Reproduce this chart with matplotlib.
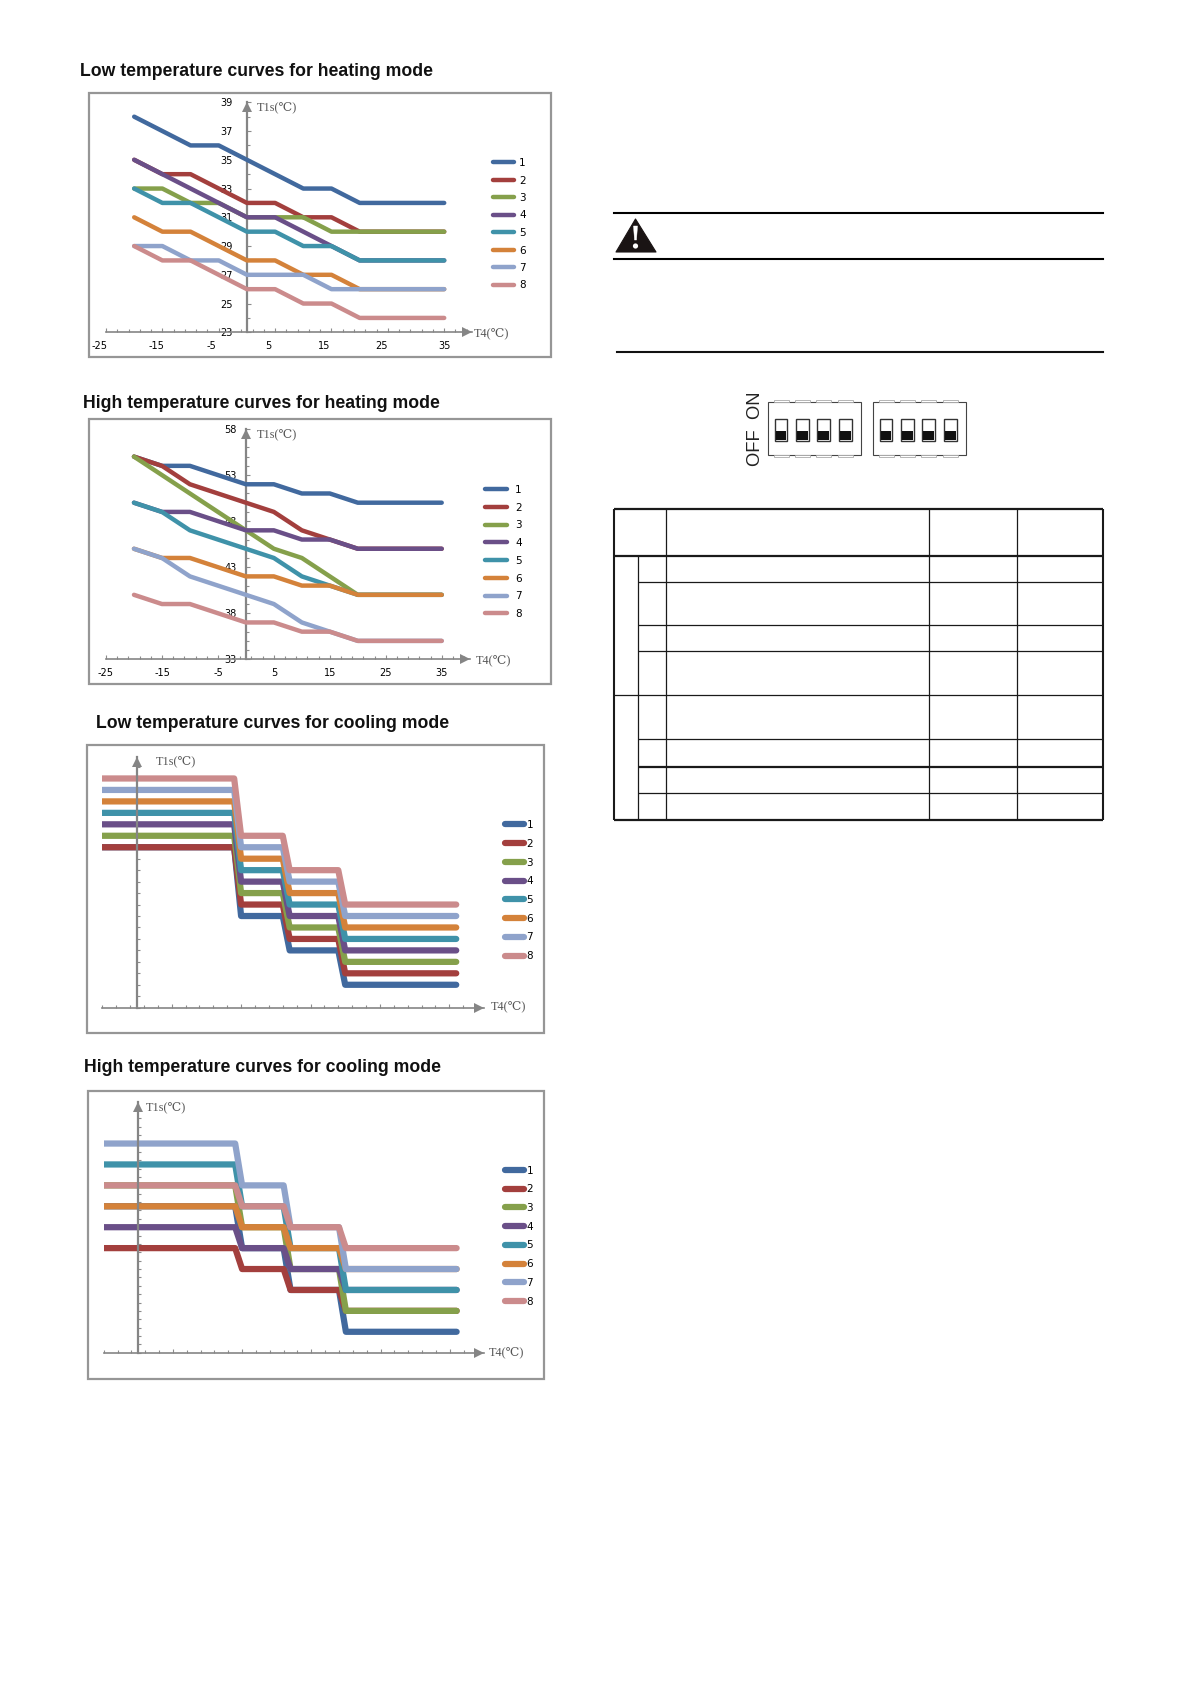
import matplotlib
matplotlib.use("Agg")
import matplotlib.pyplot as plt
from matplotlib.patches import Polygon, Rectangle, Circle
from matplotlib.transforms import ScaledTranslation

W, H = 1191, 1684
DPI = 100

colors = ["#41699E", "#A33F3D", "#85A04B", "#6A4F88", "#3F92A9", "#D4823A", "#8FA3CB", "#CB8B8C"]
names = ["1", "2", "3", "4", "5", "6", "7", "8"]

# heating curves, T4 every 5 degrees
heat_t4 = [-20, -15, -10, -5, 0, 5, 10, 15, 20, 25, 30, 35]

low_heat = [
    [38, 37, 36, 36, 35, 34, 33, 33, 32, 32, 32, 32],
    [35, 34, 34, 33, 32, 32, 31, 31, 30, 30, 30, 30],
    [33, 33, 32, 32, 31, 31, 31, 30, 30, 30, 30, 30],
    [35, 34, 33, 32, 31, 31, 30, 29, 28, 28, 28, 28],
    [33, 32, 32, 31, 30, 30, 29, 29, 28, 28, 28, 28],
    [31, 30, 30, 29, 28, 28, 27, 27, 26, 26, 26, 26],
    [29, 29, 28, 28, 27, 27, 27, 26, 26, 26, 26, 26],
    [29, 28, 28, 27, 26, 26, 25, 25, 24, 24, 24, 24],
]
high_heat = [
    [55, 54, 54, 53, 52, 52, 51, 51, 50, 50, 50, 50],
    [55, 54, 52, 51, 50, 49, 47, 46, 45, 45, 45, 45],
    [55, 53, 51, 49, 47, 45, 44, 42, 40, 40, 40, 40],
    [50, 49, 49, 48, 47, 47, 46, 46, 45, 45, 45, 45],
    [50, 49, 47, 46, 45, 44, 42, 41, 40, 40, 40, 40],
    [45, 44, 44, 43, 42, 42, 41, 41, 40, 40, 40, 40],
    [45, 44, 42, 41, 40, 39, 37, 36, 35, 35, 35, 35],
    [40, 39, 39, 38, 37, 37, 36, 36, 35, 35, 35, 35],
]

# cooling curves, no scale printed in the source so y is in tick counts
cool_t4 = [-5, 14, 15, 21, 22, 29, 30, 46]

low_cool = [
    [14, 14, 8, 8, 5, 5, 2, 2],
    [14, 14, 9, 9, 6, 6, 3, 3],
    [15, 15, 10, 10, 7, 7, 4, 4],
    [16, 16, 11, 11, 8, 8, 5, 5],
    [17, 17, 12, 12, 9, 9, 6, 6],
    [18, 18, 13, 13, 10, 10, 7, 7],
    [19, 19, 14, 14, 11, 11, 8, 8],
    [20, 20, 15, 15, 12, 12, 9, 9],
]
high_cool = [
    [7, 7, 5, 5, 3, 3, 1, 1],
    [5, 5, 4, 4, 3, 3, 2, 2],
    [8, 8, 6, 6, 4, 4, 2, 2],
    [6, 6, 5, 5, 4, 4, 3, 3],
    [9, 9, 7, 7, 5, 5, 3, 3],
    [7, 7, 6, 6, 5, 5, 4, 4],
    [10, 10, 8, 8, 6, 6, 4, 4],
    [8, 8, 7, 7, 6, 6, 5, 5],
]

heat_xticks = [-25, -15, -5, 5, 15, 25, 35]
low_yticks = [39, 37, 35, 33, 31, 29, 27, 25, 23]
high_yticks = [58, 53, 48, 43, 38, 33]

# right hand column
table_h = [(614, 1103, 509), (614, 1103, 556), (638, 1103, 582), (638, 1103, 625), (638, 1103, 651),
           (614, 1103, 695), (638, 1103, 739), (638, 1103, 767), (638, 1103, 793), (614, 1103, 820)]
table_v = [(614, 509, 820), (638, 556, 820), (666, 509, 820), (929, 509, 820), (1017, 509, 820), (1103, 509, 820)]
thick_rows = [556, 767, 820, 509]
dip_boxes = [768, 873]
dip_offsets = [6.5, 28, 49, 71]

fig = plt.figure(figsize=(W / DPI, H / DPI), dpi=DPI, facecolor="white")
page = fig.add_axes([0, 0, 1, 1])
page.set_xlim(0, W)
page.set_ylim(H, 0)
page.axis("off")

GRAY = "#858585"
TICK = "#8c8c8c"
SERIF = ["Liberation Serif", "DejaVu Serif"]


def make_panel(box, px, xlim, ylim, xminor, yminor, xmajor=None):
    # px = left, right, top, bottom of the axes in pixels
    left, right, top, bottom = px
    page.add_patch(Rectangle((box[0], box[1]), box[2] - box[0], box[3] - box[1], fc="white", ec="#969696", lw=1.6))
    ax = fig.add_axes([left / W, 1 - bottom / H, (right - left) / W, (bottom - top) / H])
    ax.patch.set_alpha(0)
    ax.set_xlim(*xlim)
    ax.set_ylim(*ylim)
    for s in ["top", "right"]:
        ax.spines[s].set_visible(False)
    ax.spines["left"].set_position(("data", 0))
    ax.spines["left"].set_color(GRAY)
    ax.spines["left"].set_linewidth(1.6)
    ax.spines["bottom"].set_color(GRAY)
    ax.spines["bottom"].set_linewidth(1.2)
    ax.set_xticks(xminor, minor=True)
    ax.set_yticks(yminor, minor=True)
    ax.tick_params(which="minor", direction="in", length=2.0, width=0.8, color=TICK)
    ax.tick_params(which="major", direction="in", length=3.0, width=0.8, color=TICK)
    ax.set_xticks(xmajor if xmajor else [])
    ax.set_xticklabels([""] * len(xmajor) if xmajor else [])
    ax.set_yticks([])
    # arrow tips end where the axis ends
    right_tr = ax.get_yaxis_transform() + ScaledTranslation(-5 / DPI, 0, fig.dpi_scale_trans)
    up_tr = ax.get_xaxis_transform() + ScaledTranslation(0, -5 / DPI, fig.dpi_scale_trans)
    ax.plot(1, ylim[0], ">", transform=right_tr, clip_on=False, color=GRAY, ms=7.5, mew=0)
    ax.plot(0, 1, "^", transform=up_tr, clip_on=False, color=GRAY, ms=7.5, mew=0)
    return ax


def draw_curves(ax, x, curves, lw, zorder, legend_at, row_gap, text_gap, handle_len):
    handles = []
    for i, y in enumerate(curves):
        ln, = ax.plot(x, y, color=colors[i], lw=lw, zorder=zorder, solid_capstyle="round",
                      solid_joinstyle="round", label=names[i])
        handles.append(ln)
    ax.legend(handles=handles, loc="upper left", bbox_to_anchor=legend_at, bbox_transform=page.transData,
              frameon=False, fontsize=7.5, handlelength=handle_len, handletextpad=text_gap, labelspacing=row_gap,
              borderpad=0, borderaxespad=0)


def heat_labels(ax, xlab, ylab, offsets, ypad):
    ax.set_xticks(xlab)
    ax.set_xticklabels([str(v) for v in xlab], fontsize=7)
    ax.set_yticks(ylab)
    ax.set_yticklabels([str(v) for v in ylab], fontsize=7)
    ax.tick_params(axis="y", which="major", pad=ypad)
    ax.tick_params(axis="x", which="major", pad=6.5)
    for lbl, dx in zip(ax.get_xticklabels(), offsets):
        lbl.set_transform(lbl.get_transform() + ScaledTranslation(dx / DPI, 0, fig.dpi_scale_trans))


def title(x, y, s):
    page.text(x, y, s, family="Liberation Sans", weight="bold", fontsize=12.73, ha="left", va="center", color="#111111")


def axis_name(x, y, s):
    page.text(x, y, s, family=SERIF, fontsize=8.8, ha="left", va="center", color="#555555")


# low temperature heating
title(80, 71.5, "Low temperature curves for heating mode")
ax1 = make_panel((88.5, 92.5, 550.5, 357), (106, 472.4, 102.3, 332.3), (-25, 40), (23, 39),
                 list(range(-25, 40, 2)), list(range(23, 39)))
draw_curves(ax1, heat_t4, low_heat, 3.2, 3, (492.5, 158), 0.72, 0.45, 2.1)
heat_labels(ax1, heat_xticks, low_yticks, [-6, -6, -7, -7, -7, -6, 0], 10.5)
axis_name(257, 108, "T1s(℃)")
axis_name(474, 334, "T4(℃)")

# high temperature heating
title(83, 403.5, "High temperature curves for heating mode")
ax2 = make_panel((88.5, 419, 550.5, 684), (106, 469.7, 429, 659.3), (-25, 40), (33, 58),
                 list(range(-25, 40, 2)), list(range(33, 58)))
draw_curves(ax2, heat_t4, high_heat, 3.2, 3, (485, 485), 0.74, 0.8, 2.1)
heat_labels(ax2, heat_xticks, high_yticks, [0, 0, 0, 0, 0, 0, 0], 6.5)
axis_name(257, 435, "T1s(℃)")
axis_name(476, 661, "T4(℃)")

# low temperature cooling
title(96, 724, "Low temperature curves for cooling mode")
ax3 = make_panel((87, 745, 544, 1033), (102.3, 484, 756.7, 1007.7), (-5, 50), (0, 21.9),
                 list(range(-5, 50, 2)), list(range(0, 22)), xmajor=list(range(5, 50, 10)))
draw_curves(ax3, cool_t4, low_cool, 4.5, 2, (505, 820), 0.84, 0.25, 1.8)
axis_name(156, 762, "T1s(℃)")
axis_name(491, 1007, "T4(℃)")

# high temperature cooling
title(84, 1068, "High temperature curves for cooling mode")
ax4 = make_panel((87.5, 1091, 544, 1379), (103.7, 484.3, 1101.7, 1352.7), (-5, 50), (0, 12),
                 list(range(-5, 50, 2)), [0.4 * i for i in range(30)], xmajor=list(range(5, 50, 10)))
draw_curves(ax4, cool_t4, high_cool, 4.5, 2, (505, 1165.5), 0.84, 0.25, 1.8)
axis_name(146, 1108.5, "T1s(℃)")
axis_name(489, 1353, "T4(℃)")

# warning block
page.plot([614, 1103], [213, 213], color="black", lw=1.5)
page.plot([614, 1103], [259, 259], color="black", lw=1.5)
page.plot([617, 1103], [352, 352], color="#111111", lw=1.5)
page.add_patch(Polygon([(635.5, 219), (656, 252), (616, 252)], closed=True, fc="#1a1414", ec="#1a1414", lw=0.8, joinstyle="round"))
page.add_patch(Polygon([(633.5, 226), (637.5, 226), (636.5, 240), (634.5, 240)], closed=True, fc="white", ec="white", lw=0.3))
page.add_patch(Circle((635.5, 246), 2.6, fc="white", ec="none"))

# DIP switches
page.text(755, 429, "OFF  ON", family="Liberation Sans", fontsize=13.2, rotation=90, ha="center", va="center", color="#222222")
for bx in dip_boxes:
    page.add_patch(Rectangle((bx, 401.5), 93, 53.5, fc="white", ec="#444444", lw=0.8))
    for dx in dip_offsets:
        for ty in (399.5, 455):
            page.add_patch(Rectangle((bx + dx - 1, ty), 15, 2, fc="white", ec="#aaaaaa", lw=0.6))
        page.add_patch(Rectangle((bx + dx, 419), 12.5, 21.5, fc="white", ec="#333333", lw=1.0))
        page.add_patch(Rectangle((bx + dx + 1, 431), 10.5, 9, fc="#111111", ec="none"))

# table grid (cells are empty in the source)
for x0, x1, y in table_h:
    page.plot([x0, x1], [y, y], color="#1a1a1a", lw=1.6 if y in thick_rows else 0.9, solid_capstyle="butt")
for x, y0, y1 in table_v:
    page.plot([x, x], [y0, y1], color="#1a1a1a", lw=1.5 if x in (614, 1103) else 0.9, solid_capstyle="butt")

fig.savefig("out.png", dpi=DPI, facecolor="white")
